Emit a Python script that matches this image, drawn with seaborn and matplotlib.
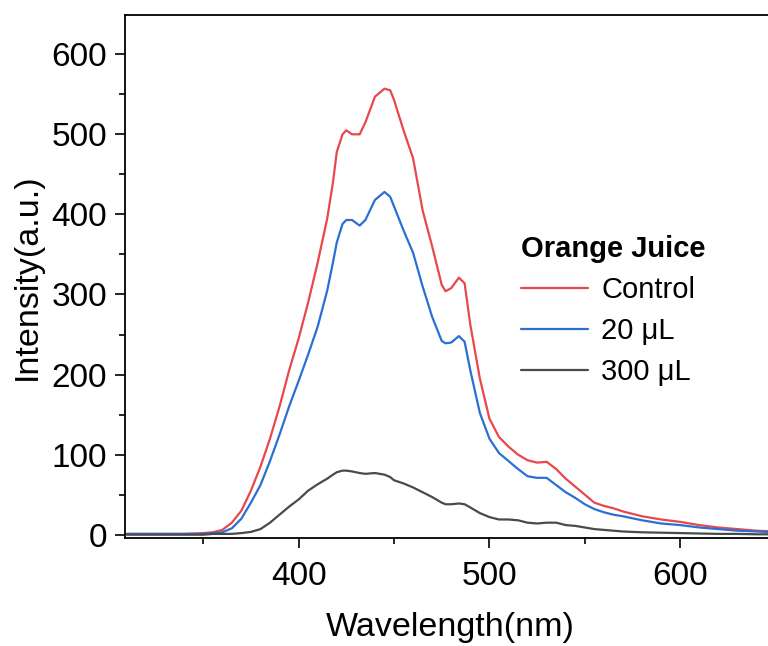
import matplotlib
matplotlib.use("Agg")
import matplotlib.pyplot as plt
import seaborn as sns
import pandas as pd
from matplotlib.ticker import MultipleLocator

# ---- data ----
wavelength = [310, 320, 330, 340, 350, 355, 360, 365, 370, 375, 380, 385, 390, 395,
              400, 405, 410, 415, 418, 420, 423, 425, 428, 432, 435, 440, 445, 448, 450, 455,
              460, 465, 470, 475, 477, 480, 484, 487, 490, 495, 500, 505, 510, 515,
              520, 525, 530, 535, 540, 545, 550, 555, 560, 565, 570, 580, 590, 600,
              610, 620, 630, 640, 650]

control = [1, 1, 1, 1, 2, 3, 6, 15, 30, 55, 85, 120, 160, 205,
           245, 290, 340, 395, 440, 478, 500, 505, 500, 500, 515, 547, 557, 555, 543, 505,
           470, 405, 360, 312, 304, 308, 321, 314, 262, 195, 145, 122, 110, 100,
           93, 90, 91, 82, 70, 60, 50, 40, 36, 33, 29, 23, 19, 16,
           12, 9, 7, 5, 4]

ul20 = [1, 1, 1, 1, 1, 2, 3, 8, 20, 40, 62, 92, 125, 160,
        192, 225, 260, 305, 340, 365, 388, 393, 393, 386, 393, 418, 428, 422, 410, 380,
        352, 310, 272, 242, 239, 240, 248, 241, 205, 152, 120, 102, 92, 82,
        73, 71, 71, 62, 53, 46, 38, 32, 28, 25, 23, 18, 14, 12,
        9, 7, 5, 4, 3]

ul300 = [0, 0, 0, 0, 0, 1, 1, 1, 2, 3.5, 7, 15, 25, 35,
         44, 55, 63, 70, 75, 78, 80, 80, 79, 77, 76, 77, 75, 72, 68, 64,
         59, 53, 47, 40, 38, 38, 39, 38, 34, 27, 22, 19, 19, 18,
         15, 14, 15, 15, 12, 11, 9, 7, 6, 5, 4, 3, 2.5, 2,
         1.5, 1, 1, 0.5, 0.5]

series_names = ["Control", "20 μL", "300 μL"]
series_values = [control, ul20, ul300]
colors = ["#e8474c", "#2a6fd4", "#4a4a4a"]

x_ticks = [400, 500, 600]
y_ticks = [0, 100, 200, 300, 400, 500, 600]

frames = []
for name, vals in zip(series_names, series_values):
    frames.append(pd.DataFrame({"Wavelength": wavelength, "Intensity": vals, "Sample": name}))
df = pd.concat(frames, ignore_index=True)

sns.set_theme(style="ticks")
plt.rcParams["font.family"] = ["Liberation Sans", "DejaVu Sans"]
plt.rcParams["text.color"] = "black"
plt.rcParams["axes.labelcolor"] = "black"
plt.rcParams["xtick.color"] = "black"
plt.rcParams["ytick.color"] = "black"

fig = plt.figure(figsize=(7.68, 6.46), dpi=100)
ax = fig.add_axes([125 / 768, 107.7 / 646, 650.6 / 768, 523.3 / 646])

sns.lineplot(data=df, x="Wavelength", y="Intensity", hue="Sample",
             hue_order=series_names, palette=colors, linewidth=1.6, ax=ax,
             sort=True, estimator=None)

ax.set_xlim(309, 650)
ax.set_ylim(-4.5, 649)
ax.set_xticks(x_ticks)
ax.set_yticks(y_ticks)
ax.xaxis.set_minor_locator(MultipleLocator(50))
ax.yaxis.set_minor_locator(MultipleLocator(50))

for s in ["top", "left", "bottom", "right"]:
    ax.spines[s].set_linewidth(1.3)
    ax.spines[s].set_color("black")

ax.tick_params(axis="both", which="major", direction="out", length=7, width=1.2,
               labelsize=24, pad=6, colors="black", labelcolor="black")
ax.tick_params(axis="x", which="major", pad=9)
ax.tick_params(axis="both", which="minor", direction="out", length=4, width=1.2,
               colors="black")
ax.tick_params(axis="x", which="both", top=False)
ax.tick_params(axis="y", which="both", right=False)

ax.set_xlabel("Wavelength(nm)", fontsize=24.5, labelpad=15, color="black")
ax.set_ylabel("Intensity(a.u.)", fontsize=24.5, labelpad=6, color="black")

handles, labels = ax.get_legend_handles_labels()
leg = ax.legend(handles, labels, title="Orange Juice", loc="upper left",
                bbox_to_anchor=(521 / 768, 1 - 235 / 646), bbox_transform=fig.transFigure,
                frameon=False, fontsize=21, title_fontproperties={"weight": "bold", "size": 21},
                handlelength=2.3, handletextpad=0.45, labelspacing=0.45,
                borderpad=0, borderaxespad=0, alignment="left", labelcolor="black")
leg.get_title().set_color("black")
for line in leg.get_lines():
    line.set_linewidth(1.6)

fig.savefig("out.png", dpi=100)
